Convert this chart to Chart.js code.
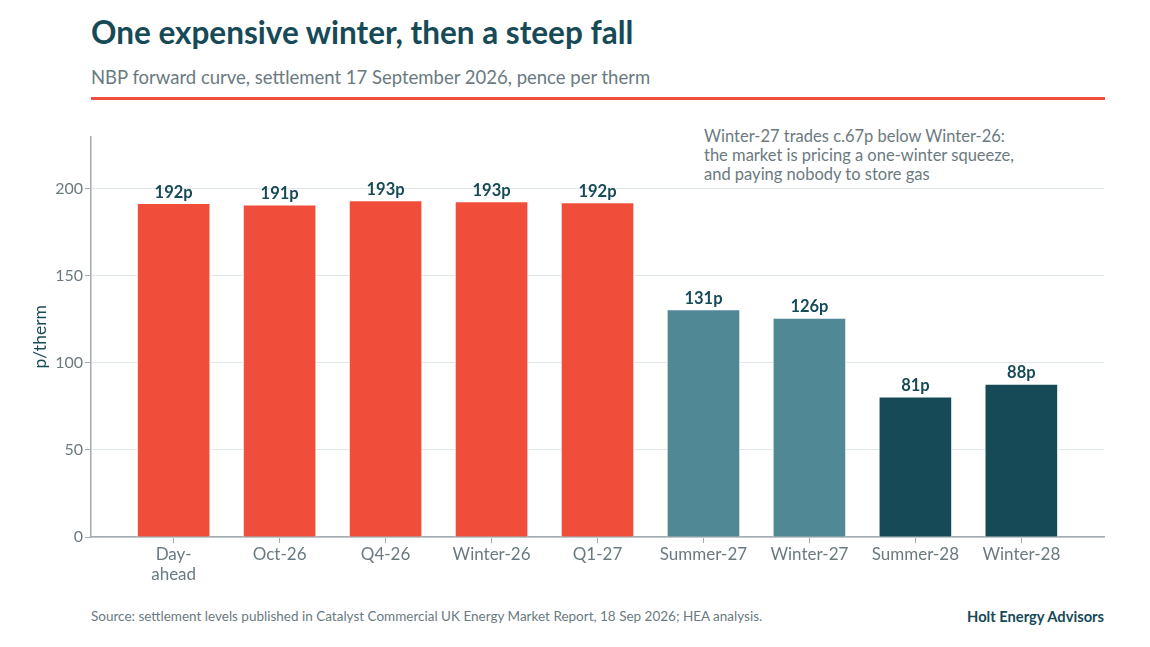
<!DOCTYPE html>
<html>
<head>
<meta charset="utf-8">
<script src="https://cdn.jsdelivr.net/npm/chart.js@4.4.1/dist/chart.umd.min.js"></script>
<style>
  body { margin: 0; background: #fff; font-family: Lato, "Open Sans", sans-serif; }
  #page { position: relative; width: 1150px; height: 647px; overflow: hidden; }
  #title { position: absolute; left: 91px; top: 13px; font-size: 31.5px; font-weight: 700; color: #174a57; white-space: nowrap; }
  #subtitle { position: absolute; left: 91px; top: 66px; font-size: 18.5px; color: #6b7a80; white-space: nowrap; }
  #rule { position: absolute; left: 91px; top: 97px; width: 1014px; height: 3px; background: #f04e3a; }
  #note { position: absolute; left: 704px; top: 127px; font-size: 16.5px; line-height: 19px; color: #6b7a80; white-space: nowrap; }
  #chartBox { position: absolute; left: 30px; top: 125px; width: 1090px; height: 470px; }
  #source { position: absolute; left: 91px; top: 608px; font-size: 13.5px; color: #6b7a80; white-space: nowrap; }
  #brand { position: absolute; right: 46px; top: 607px; font-size: 14.7px; font-weight: 700; color: #174a57; white-space: nowrap; }
</style>
</head>
<body>
<div id="page">
  <div id="title">One expensive winter, then a steep fall</div>
  <div id="subtitle">NBP forward curve, settlement 17 September 2026, pence per therm</div>
  <div id="rule"></div>
  <div id="note">Winter-27 trades c.67p below Winter-26:<br>the market is pricing a one-winter squeeze,<br>and paying nobody to store gas</div>
  <div id="chartBox"><canvas id="curveChart"></canvas></div>
  <div id="source">Source: settlement levels published in Catalyst Commercial UK Energy Market Report, 18 Sep 2026; HEA analysis.</div>
  <div id="brand">Holt Energy Advisors</div>
</div>
<script>
// Forward curve contracts and settlement prices (p/therm)
const contracts = [['Day-', 'ahead'], 'Oct-26', 'Q4-26', 'Winter-26', 'Q1-27', 'Summer-27', 'Winter-27', 'Summer-28', 'Winter-28'];
const prices = [191.6, 190.8, 193.2, 192.7, 192.1, 130.6, 125.8, 80.5, 87.9];
const priceLabels = ['192p', '191p', '193p', '193p', '192p', '131p', '126p', '81p', '88p'];
const barColors = ['#f04e3a', '#f04e3a', '#f04e3a', '#f04e3a', '#f04e3a', '#508995', '#508995', '#174a57', '#174a57'];
const yTicks = [0, 50, 100, 150, 200];

const FONT = 'Lato, "Open Sans", sans-serif';
const GREY = '#6b7a80';
const DARK = '#174a57';

// draw the "192p" style labels above each bar
const valueLabels = {
    id: 'valueLabels',
    afterDatasetsDraw(chart) {
        const ctx = chart.ctx;
        const meta = chart.getDatasetMeta(0);
        ctx.save();
        ctx.font = 'bold 16.5px ' + FONT;
        ctx.fillStyle = DARK;
        ctx.textAlign = 'center';
        ctx.textBaseline = 'bottom';
        meta.data.forEach((bar, i) => {
            ctx.fillText(priceLabels[i], bar.x, bar.y - 3);
        });
        ctx.restore();
    }
};

new Chart(document.getElementById('curveChart'), {
    type: 'bar',
    data: {
        datasets: [{
            data: prices.map((v, i) => ({ x: i, y: v })),
            backgroundColor: barColors,
            borderColor: '#ffffff',
            borderWidth: 1,
            barThickness: 73
        }]
    },
    options: {
        responsive: true,
        maintainAspectRatio: false,
        animation: false,
        layout: { padding: { top: 10, right: 16, left: 0, bottom: 0 } },
        plugins: {
            legend: { display: false },
            tooltip: { enabled: false }
        },
        scales: {
            x: {
                type: 'linear',
                min: -0.78,
                max: contracts.length - 1 + 0.78,
                offset: false,
                afterBuildTicks(axis) { axis.ticks = contracts.map((c, i) => ({ value: i })); },
                grid: { display: true, offset: false, drawOnChartArea: false, color: '#a3abae', tickLength: 6 },
                border: { color: '#a3abae', width: 1.5 },
                ticks: {
                    color: GREY,
                    font: { family: FONT, size: 17 },
                    maxRotation: 0,
                    autoSkip: false,
                    padding: 1,
                    callback: v => contracts[v]
                },
                afterFit(axis) { axis.height = 58; }
            },
            y: {
                min: 0,
                max: 230,
                afterBuildTicks(axis) { axis.ticks = yTicks.map(v => ({ value: v })); },
                grid: { color: '#dfe7ea', tickLength: 6, tickColor: '#a3abae' },
                border: { color: '#a3abae', width: 1.5 },
                ticks: { color: GREY, font: { family: FONT, size: 16 }, padding: 2 },
                title: {
                    display: true,
                    text: 'p/therm',
                    color: DARK,
                    font: { family: FONT, size: 17.5 },
                    padding: 0
                },
                afterFit(axis) { axis.width = 61; }
            }
        }
    },
    plugins: [valueLabels]
});
</script>
</body>
</html>
